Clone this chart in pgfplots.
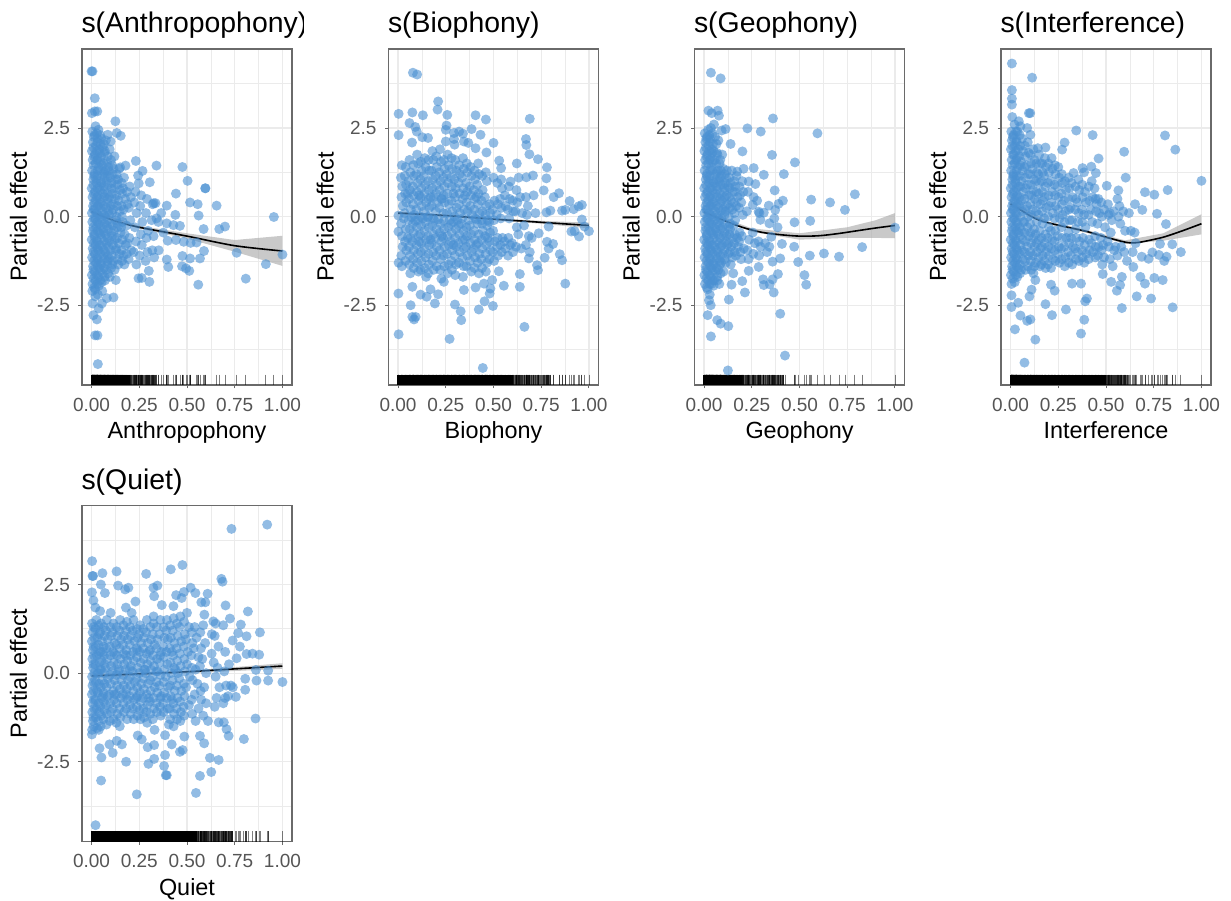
\documentclass[border=0pt]{standalone}
\usepackage{pgfplots}
\usepackage{pgfplotstable}
\usepackage{fontspec}
\setmainfont{Liberation Sans}
\pgfplotsset{compat=1.18}
\definecolor{pt}{HTML}{4A90D2}
\definecolor{gr}{HTML}{EBEBEB}
\definecolor{fr}{HTML}{6A6A6A}
\definecolor{tl}{HTML}{555555}
\pgfplotstableread[row sep=\\]{x y\\
0 4.1\\.005 4.1\\.017 3.34\\.017 2.97\\.002 2.92\\.03 2.97\\.125 2.69\\.132 2.36\\.153 2.28\\.10 2.12\\.085 2.31\\.232 1.57\\.34 1.44\\.476 1.40\\.503 1.01\\.178 1.44\\.15 1.39\\.267 1.29\\.244 1.16\\.305 .97\\.247 .94\\.442 .65\\.596 .80\\.596 .80\\.394 .31\\.326 .38\\.335 .38\\.516 .40\\.556 .35\\.655 .31\\.439 .05\\.561 .03\\.955 -.01\\.394 -.19\\.429 -.24\\.463 -.26\\.587 -.35\\.669 -.35\\.699 -.28\\.376 -.45\\.399 -.68\\.442 -.66\\.483 -.71\\.519 -.74\\.55 -.73\\.589 -.97\\.76 -1.02\\1 -1.07\\.476 -1.11\\.516 -1.18\\.568 -1.18\\.394 -1.21\\.402 -1.42\\.474 -1.40\\.495 -1.46\\.512 -1.53\\.913 -1.34\\.808 -1.75\\.559 -1.92\\.303 -1.84\\.30 -1.53\\.246 -1.74\\.263 -1.73\\.127 -1.79\\.115 -2.28\\.054 -2.45\\.005 -2.45\\.01 -2.78\\.028 -2.90\\.019 -3.35\\.031 -3.35\\.033 -4.16\\.037 -2.59\\.08 -2.3\\
.004 2.4\\.007 2.1\\.002 1.85\\.006 1.6\\.003 1.3\\.009 1.05\\.001 .8\\.005 .55\\.008 .3\\.002 .1\\.004 -.15\\.007 -.4\\.001 -.65\\.006 -.9\\.003 -1.15\\.008 -1.4\\.002 -1.65\\.005 -1.9\\.004 -2.1\\
.021 2.55\\.016 2.3\\.024 2\\.018 1.75\\.022 1.5\\.015 1.2\\.026 .95\\.019 .7\\.023 .45\\.017 .2\\.02 -.05\\.025 -.3\\.014 -.55\\.021 -.8\\.018 -1.05\\.024 -1.3\\.016 -1.55\\.022 -1.8\\.019 -2.05\\.02 -2.25\\
.036 2.45\\.031 2.2\\.04 1.9\\.033 1.65\\.038 1.4\\.03 1.15\\.042 .85\\.034 .6\\.039 .35\\.032 .05\\.037 -.2\\.041 -.45\\.03 -.7\\.036 -.95\\.033 -1.2\\.04 -1.45\\.035 -1.7\\.038 -1.95\\.033 -2.2\\
.052 2.2\\.058 1.95\\.05 1.7\\.056 1.45\\.061 1.2\\.053 .95\\.059 .65\\.049 .4\\.057 .15\\.054 -.1\\.06 -.35\\.051 -.6\\.055 -.85\\.062 -1.1\\.05 -1.35\\.058 -1.6\\.053 -1.85\\.056 -2.1\\
.075 2.15\\.07 1.85\\.081 1.55\\.073 1.3\\.078 1\\.069 .75\\.083 .5\\.076 .25\\.071 0\\.08 -.25\\.074 -.5\\.079 -.75\\.072 -1\\.082 -1.25\\.075 -1.5\\.07 -1.8\\
.095 1.9\\.101 1.6\\.09 1.3\\.098 1.1\\.104 .8\\.093 .55\\.1 .3\\.091 .05\\.097 -.2\\.103 -.45\\.094 -.7\\.099 -.95\\.09 -1.2\\.102 -1.45\\.096 -1.7\\
.12 1.7\\.115 1.35\\.126 1.05\\.118 .8\\.123 .5\\.113 .2\\.128 -.1\\.117 -.4\\.122 -.65\\.127 -.95\\.114 -1.25\\.121 -1.5\\
.145 1.35\\.139 1.05\\.15 .75\\.142 .45\\.148 .15\\.136 -.2\\.152 -.45\\.143 -.75\\.147 -1.05\\.14 -1.35\\
.17 1.1\\.165 .8\\.176 .5\\.168 .2\\.163 -.15\\.173 -.5\\.178 -.8\\.167 -1.1\\.172 -1.35\\
.2 .85\\.206 .55\\.195 .25\\.203 -.1\\.198 -.6\\.208 -.95\\.194 -1.2\\
.23 .7\\.224 .4\\.236 .1\\.227 -.3\\.233 -.7\\.221 -1\\.235 -1.35\\
.26 .6\\.255 .3\\.266 -.15\\.258 -.5\\.263 -.8\\.252 -1.1\\
.29 .5\\.285 .1\\.296 -.4\\.288 -.6\\.293 -1\\.283 -1.25\\
.32 .35\\.315 -.1\\.325 -.55\\.318 -.95\\.328 -1.15\\.352 -.95\\.34 -.05\\.365 .1\\.35 -.15\\
.012 2.25\\.01 1.95\\.013 1.7\\.011 1.45\\.014 1.15\\.01 .9\\.012 .65\\.014 .4\\.011 .2\\.013 -.05\\.01 -.3\\.014 -.5\\.012 -.75\\.011 -1\\.013 -1.25\\.01 -1.5\\.012 -1.75\\.014 -2\\
.028 2.35\\.03 2.1\\.027 1.85\\.029 1.6\\.031 1.3\\.026 1.05\\.03 .8\\.028 .55\\.032 .3\\.027 .1\\.029 -.15\\.031 -.4\\.026 -.65\\.03 -.9\\.028 -1.15\\.032 -1.4\\.027 -1.65\\.029 -1.9\\
.045 2.3\\.047 2.05\\.043 1.8\\.046 1.55\\.044 1.3\\.048 1\\.045 .75\\.043 .5\\.047 .25\\.044 0\\.046 -.25\\.048 -.5\\.043 -.8\\.045 -1.05\\.047 -1.3\\.044 -1.55\\.046 -1.8\\
.065 2.05\\.067 1.8\\.063 1.5\\.066 1.25\\.068 1.1\\.064 .85\\.067 .55\\.063 .3\\.065 .05\\.068 -.2\\.064 -.45\\.066 -.7\\.063 -.95\\.067 -1.2\\.065 -1.45\\.068 -1.7\\
.085 1.7\\.088 1.4\\.084 1.15\\.087 .9\\.083 .65\\.086 .4\\.089 .15\\.085 -.1\\.087 -.35\\.084 -.6\\.088 -.85\\.086 -1.1\\.083 -1.35\\.087 -1.6\\
.108 1.45\\.111 1.2\\.106 .95\\.109 .65\\.112 .35\\.107 .1\\.11 -.25\\.108 -.55\\.112 -.8\\.106 -1.1\\.109 -1.35\\
.132 1.2\\.135 .9\\.13 .6\\.134 .3\\.131 0\\.136 -.3\\.133 -.6\\.13 -.9\\.135 -1.2\\
.158 .95\\.16 .65\\.156 .3\\.159 0\\.155 -.3\\.161 -.65\\.157 -.95\\.16 -1.25\\.185 .7\\.188 .35\\.183 -.25\\.187 -.75\\.184 -1.05\\
}\dA
\pgfplotstableread[row sep=\\]{x y\\
.078 4.06\\.10 4.01\\.21 3.25\\.207 3.02\\.003 2.9\\.075 2.94\\.13 2.86\\.258 2.87\\.406 2.86\\.46 2.74\\.69 2.76\\.06 2.64\\.09 2.53\\.003 2.3\\.098 2.4\\.254 2.57\\.25 2.45\\.385 2.47\\.432 2.31\\.32 2.4\\.293 2.36\\.34 2.34\\.127 2.24\\.157 2.22\\.293 2.19\\.25 2.12\\.345 2.12\\.368 2.08\\.50 2.08\\.67 2.19\\.672 2.02\\.073 2.09\\.406 1.93\\.463 1.81\\.296 2.03\\.688 1.76\\.733 1.62\\.53 1.58\\.622 1.5\\.78 1.39\\.777 1.08\\.54 1.37\\.707 1.16\\.672 1.11\\.632 1.10\\.589 .99\\.763 .74\\.843 .66\\.815 .55\\.899 .44\\.963 .33\\.946 .29\\.876 .19\\.92 .21\\.859 .17\\.777 .12\\.798 .17\\.963 -.08\\1 -.41\\.925 -.41\\.908 -.42\\.948 -.56\\.977 -.28\\.789 -.28\\.737 -.47\\.78 -.71\\.812 -.77\\.789 -.9\\.847 -1.06\\.859 -1.23\\.768 -1.16\\.728 -1.37\\.733 -1.51\\.685 -1.18\\.876 -1.89\\.638 -1.62\\.638 -1.98\\.528 -1.54\\.554 -1.95\\.493 -1.79\\.484 -2.03\\.48 -2.17\\.453 -2.39\\.497 -2.52\\.423 -2.62\\.298 -2.48\\.328 -2.67\\.331 -2.92\\.193 -2.45\\.066 -2.5\\.002 -2.17\\.075 -1.98\\.118 -2.2\\.15 -2.26\\.21 -2.19\\.075 -2.83\\.092 -2.83\\.084 -2.9\\.003 -3.32\\.27 -3.45\\.662 -3.11\\.444 -4.27\\.345 -2.07\\.406 -2\\.45 -1.89\\.24 -1.84\\.17 -2.05\\.003 -1.3\\.002 -.42\\.002 .03\\
.02 1.45\\.015 1.1\\.022 .85\\.018 .55\\.025 .3\\.016 -.2\\.021 -.55\\.024 -.85\\.017 -1.1\\.02 -1.4\\
.06 1.6\\.065 1.25\\.055 1\\.062 .75\\.058 .5\\.067 .2\\.056 -.1\\.061 -.35\\.066 -.6\\.057 -.85\\.063 -1.1\\.059 -1.35\\.064 -1.6\\
.1 1.75\\.105 1.5\\.095 1.2\\.102 .95\\.098 .7\\.107 .45\\.096 .2\\.103 -.1\\.099 -.3\\.106 -.55\\.097 -.8\\.104 -1.05\\.1 -1.3\\.107 -1.55\\
.14 1.65\\.145 1.4\\.135 1.15\\.142 .9\\.138 .65\\.147 .4\\.136 .15\\.143 -.15\\.139 -.4\\.146 -.65\\.137 -.9\\.144 -1.15\\.14 -1.45\\.147 -1.7\\
.18 1.85\\.185 1.6\\.175 1.3\\.182 1.05\\.178 .8\\.187 .55\\.176 .3\\.183 -.05\\.179 -.25\\.186 -.5\\.177 -.75\\.184 -1\\.18 -1.25\\.187 -1.5\\
.22 1.9\\.225 1.55\\.215 1.25\\.222 1\\.218 .75\\.227 .5\\.216 .25\\.223 -.2\\.219 -.45\\.226 -.7\\.217 -.95\\.224 -1.2\\.22 -1.5\\.227 -1.75\\
.26 1.75\\.265 1.45\\.255 1.2\\.262 .95\\.258 .65\\.267 .35\\.256 .1\\.263 -.3\\.259 -.55\\.266 -.8\\.257 -1.05\\.264 -1.35\\.26 -1.6\\
.3 1.6\\.305 1.3\\.295 1.05\\.302 .8\\.298 .55\\.307 .25\\.296 0\\.303 -.35\\.299 -.6\\.306 -.85\\.297 -1.1\\.304 -1.35\\.3 -1.65\\
.34 1.65\\.345 1.35\\.335 1.1\\.342 .8\\.338 .5\\.347 .2\\.336 -.05\\.343 -.4\\.339 -.65\\.346 -.9\\.337 -1.15\\.344 -1.4\\.34 -1.7\\
.38 1.4\\.385 1.15\\.375 .85\\.382 .6\\.378 .3\\.387 .05\\.376 -.25\\.383 -.5\\.379 -.75\\.386 -1\\.377 -1.25\\.384 -1.55\\
.42 1.5\\.425 1.2\\.415 .9\\.422 .65\\.418 .35\\.427 .1\\.416 -.2\\.423 -.5\\.419 -.75\\.426 -1.05\\.417 -1.3\\.424 -1.6\\
.46 1.25\\.465 1\\.455 .55\\.462 .3\\.458 .05\\.467 -.25\\.456 -.55\\.463 -.8\\.459 -1.05\\.466 -1.3\\.46 -1.55\\
.5 1.1\\.505 .45\\.495 .2\\.502 -.1\\.498 -.4\\.507 -.7\\.496 -1\\.503 -1.25\\
.54 1.05\\.545 .8\\.535 .5\\.542 .25\\.538 -.05\\.547 -.6\\.536 -.8\\.543 -1\\
.58 .85\\.585 .5\\.575 .2\\.582 -.05\\.578 -.6\\.587 -.8\\.576 -1.1\\
.62 .75\\.625 .4\\.615 .15\\.622 -.3\\.618 -.85\\.64 .55\\.65 .1\\.63 -.5\\.645 -.9\\
.67 .55\\.68 .3\\.675 .05\\.66 -.25\\.685 -.55\\.67 -.8\\.69 -1\\.72 .1\\.71 .6\\.7 -.6\\
.04 1.4\\.035 1.15\\.042 .9\\.037 .65\\.043 .4\\.034 .1\\.04 -.35\\.036 -.7\\.043 -.95\\.038 -1.25\\
.08 1.45\\.083 1.15\\.077 .85\\.082 .6\\.079 .35\\.084 .05\\.078 -.2\\.081 -.45\\.076 -.7\\.083 -.95\\.079 -1.2\\.082 -1.45\\
.12 1.55\\.123 1.3\\.117 1.05\\.122 .8\\.119 .55\\.124 .3\\.118 0\\.121 -.25\\.116 -.5\\.123 -.75\\.119 -1\\.122 -1.25\\.118 -1.5\\
.16 1.6\\.163 1.3\\.157 1\\.162 .75\\.159 .5\\.164 .25\\.158 0\\.161 -.3\\.156 -.55\\.163 -.8\\.159 -1.05\\.162 -1.35\\.158 -1.6\\
.2 1.7\\.203 1.4\\.197 1.15\\.202 .9\\.199 .65\\.204 .4\\.198 .15\\.201 -.35\\.196 -.6\\.203 -.85\\.199 -1.1\\.202 -1.4\\
.24 1.6\\.243 1.35\\.237 1.1\\.242 .85\\.239 .6\\.244 .4\\.238 .1\\.241 -.35\\.236 -.6\\.243 -.85\\.239 -1.1\\.242 -1.4\\
.28 1.65\\.283 1.35\\.277 1.1\\.282 .85\\.279 .45\\.284 .15\\.278 -.2\\.281 -.45\\.276 -.7\\.283 -.95\\.279 -1.25\\.282 -1.5\\
.32 1.45\\.323 1.2\\.317 .95\\.322 .65\\.319 .35\\.324 .1\\.318 -.25\\.321 -.5\\.316 -.75\\.323 -1\\.319 -1.3\\
.36 1.5\\.363 1.25\\.357 .95\\.362 .7\\.359 .4\\.364 .15\\.358 -.3\\.361 -.55\\.356 -.85\\.363 -1.1\\.359 -1.4\\
.4 1.3\\.403 1.05\\.397 .75\\.402 .5\\.399 .2\\.404 -.05\\.398 -.4\\.401 -.65\\.396 -.9\\.403 -1.15\\.4 -1.45\\
.44 1.15\\.443 .75\\.437 .45\\.442 .15\\.439 -.1\\.444 -.4\\.438 -.65\\.441 -.9\\.436 -1.2\\.44 -1.45\\
.48 .35\\.483 .1\\.477 -.15\\.482 -.45\\.479 -.7\\.484 -.95\\.478 -1.2\\.52 .95\\.523 .35\\.517 .05\\.522 -.6\\.519 -.85\\.524 -1.1\\
.56 .6\\.563 .3\\.557 -.7\\.562 -.9\\.6 .45\\.603 .15\\.597 -.75\\.602 -1\\
.03 -.05\\.07 -.02\\.09 -.12\\.13 -.05\\.155 -.02\\.19 -.1\\.21 -.08\\.24 -.12\\.27 -.1\\.29 -.15\\.31 -.1\\.33 -.2\\.37 -.1\\.41 -.08\\.44 -.2\\.47 -.1\\
.05 .65\\.11 .6\\.17 .55\\.23 .5\\.29 .65\\.35 .6\\.41 .55\\.05 -.6\\.11 -.7\\.17 -.65\\.23 -.55\\.29 -.8\\.35 -.65\\.41 -.8\\.47 -.6\\
}\dB
\pgfplotstableread[row sep=\\]{x y\\
.036 4.06\\.087 3.9\\.023 2.99\\.071 2.99\\.04 2.92\\.078 2.85\\.361 2.77\\.227 2.49\\.297 2.4\\.594 2.35\\.113 2.47\\.092 2.43\\.139 2.05\\.201 1.84\\.356 1.74\\.476 1.53\\.26 1.37\\.207 1.35\\.418 1.2\\.313 1.18\\.174 1.27\\.234 .99\\.269 .92\\.37 .74\\.278 .45\\.413 .45\\.561 .48\\.66 .4\\.79 .63\\.738 .19\\.39 .36\\.339 .31\\.255 .33\\.373 .19\\.286 .14\\.313 .11\\.368 -.05\\.342 -.19\\.295 -.09\\.474 -.16\\.556 -.12\\.385 -.3\\.352 -.57\\.408 -.77\\.342 -.85\\.472 -.85\\.828 -.86\\.628 -1.04\\.554 -1.1\\.707 -1.13\\.493 -1.28\\.399 -1.18\\.359 -1.27\\.286 -1.42\\.234 -1.53\\.153 -1.6\\.526 -1.65\\.387 -1.62\\.535 -1.92\\.309 -1.77\\.359 -1.77\\.313 -1.93\\.344 -1.91\\.214 -2.14\\.365 -2.14\\.2 -1.82\\.144 -1.92\\.13 -2.34\\.399 -2.74\\.069 -2.92\\.087 -3.02\\.127 -3.09\\.036 -3.38\\.424 -3.92\\.125 -4.34\\.019 -2.78\\.026 -2.36\\.035 -2.5\\1 -.31\\.05 -1.95\\.08 -1.9\\
.004 2.35\\.007 2.1\\.002 1.85\\.006 1.6\\.003 1.3\\.009 1.05\\.001 .8\\.005 .55\\.008 .3\\.002 .1\\.004 -.15\\.007 -.4\\.001 -.65\\.006 -.9\\.003 -1.15\\.008 -1.4\\.002 -1.65\\.005 -1.9\\
.021 2.45\\.016 2.25\\.024 2\\.018 1.75\\.022 1.5\\.015 1.2\\.026 .95\\.019 .7\\.023 .45\\.017 .2\\.02 -.05\\.025 -.3\\.014 -.55\\.021 -.8\\.018 -1.05\\.024 -1.3\\.016 -1.55\\.022 -1.8\\.019 -2.05\\
.036 2.5\\.031 2.2\\.04 1.9\\.033 1.65\\.038 1.4\\.03 1.15\\.042 .85\\.034 .6\\.039 .35\\.032 .05\\.037 -.2\\.041 -.45\\.03 -.7\\.036 -.95\\.033 -1.2\\.04 -1.45\\.035 -1.7\\.038 -1.9\\.03 -2.2\\
.052 2.6\\.058 2.25\\.05 1.85\\.056 1.6\\.061 1.2\\.053 .95\\.059 .65\\.049 .4\\.057 .15\\.054 -.1\\.06 -.35\\.051 -.6\\.055 -.85\\.062 -1.1\\.05 -1.35\\.058 -1.55\\.053 -1.8\\
.075 2.15\\.07 1.75\\.081 1.5\\.073 1.3\\.078 1\\.069 .75\\.083 .5\\.076 .25\\.071 0\\.08 -.25\\.074 -.5\\.079 -.75\\.072 -1\\.082 -1.25\\.075 -1.5\\.07 -1.8\\
.095 1.75\\.101 1.35\\.09 1.15\\.098 .9\\.104 .7\\.093 .45\\.1 .2\\.091 -.05\\.097 -.3\\.103 -.55\\.094 -.8\\.099 -1.05\\.09 -1.3\\.102 -1.55\\
.12 1.3\\.115 1.1\\.126 .85\\.118 .6\\.123 .35\\.113 .15\\.128 -.3\\.117 -.55\\.122 -.8\\.127 -1.05\\.114 -1.3\\
.145 1.3\\.139 .95\\.15 .7\\.142 .45\\.148 .2\\.136 -.35\\.152 -.6\\.143 -.85\\.147 -1.15\\.14 -1.35\\
.17 1.15\\.165 .85\\.176 .55\\.168 .3\\.163 -.1\\.173 -.6\\.178 -.85\\.167 -1.1\\
.2 1\\.206 .7\\.195 .4\\.203 .05\\.198 -.55\\.208 -.9\\.194 -1.2\\.23 .7\\.224 .15\\.236 -.65\\.227 -.95\\.233 -1.2\\
.26 .55\\.255 -.45\\.266 -.75\\.258 -1.05\\.29 .1\\.285 -.7\\.296 -.85\\.288 -1.1\\.32 -.75\\.33 -1\\
.012 2.2\\.01 1.95\\.013 1.7\\.011 1.45\\.014 1.15\\.01 .9\\.012 .65\\.014 .4\\.011 .2\\.013 -.05\\.01 -.3\\.014 -.5\\.012 -.75\\.011 -1\\.013 -1.25\\.01 -1.5\\.012 -1.75\\.014 -2\\
.028 2.3\\.03 2.1\\.027 1.85\\.029 1.6\\.031 1.3\\.026 1.05\\.03 .8\\.028 .55\\.032 .3\\.027 .1\\.029 -.15\\.031 -.4\\.026 -.65\\.03 -.9\\.028 -1.15\\.032 -1.4\\.027 -1.65\\.029 -1.9\\
.045 2.35\\.047 2.05\\.043 1.8\\.046 1.55\\.044 1.3\\.048 1\\.045 .75\\.043 .5\\.047 .25\\.044 0\\.046 -.25\\.048 -.5\\.043 -.8\\.045 -1.05\\.047 -1.3\\.044 -1.55\\.046 -1.8\\
.065 2.05\\.067 1.8\\.063 1.5\\.066 1.25\\.068 1.05\\.064 .85\\.067 .55\\.063 .3\\.065 .05\\.068 -.2\\.064 -.45\\.066 -.7\\.063 -.95\\.067 -1.2\\.065 -1.45\\.068 -1.7\\
.085 1.6\\.088 1.3\\.084 1.1\\.087 .9\\.083 .65\\.086 .4\\.089 .15\\.085 -.1\\.087 -.35\\.084 -.6\\.088 -.85\\.086 -1.1\\.083 -1.35\\.087 -1.6\\
.108 1.2\\.111 .95\\.106 .8\\.109 .55\\.112 .3\\.107 .05\\.11 -.2\\.108 -.45\\.112 -.7\\.106 -.95\\.109 -1.2\\
.132 1.1\\.135 .8\\.13 .55\\.134 .25\\.131 0\\.136 -.2\\.133 -.5\\.13 -.75\\.135 -1\\.158 1\\.16 .7\\.156 .4\\.159 .1\\.155 -.25\\.161 -.5\\.157 -.75\\.16 -1\\.185 .85\\.188 .6\\.183 .25\\.187 -.45\\.184 -.7\\.19 -1\\
}\dC
\pgfplotstableread[row sep=\\]{x y\\
.007 4.32\\.113 3.92\\.007 3.57\\.007 3.33\\.007 3.16\\.096 2.92\\.103 2.92\\.009 2.81\\.043 2.69\\.344 2.43\\.43 2.3\\.809 2.29\\.863 1.89\\.283 2.09\\.27 1.89\\.183 1.95\\.143 1.93\\.595 1.83\\.461 1.64\\1 1.01\\.603 1.1\\.823 .75\\.704 .69\\.753 .62\\.565 .74\\.504 .87\\.652 .35\\.69 .19\\.767 .08\\.814 -.21\\.847 -.78\\.892 -1\\.817 -1.13\\.805 -1.25\\.777 -1.08\\.743 -1.01\\.723 -1.19\\.783 -.77\\.753 -1.73\\.797 -1.79\\.704 -1.89\\.661 -2.25\\.736 -2.31\\.849 -2.56\\.583 -2.58\\.68 -1.7\\.557 -2.09\\.574 -1.93\\.527 -1.84\\.483 -1.62\\.4 -2.31\\.391 -2.39\\.386 -2.91\\.369 -3.3\\.29 -2.62\\.217 -2.78\\.183 -2.47\\.231 -2.09\\.212 -1.92\\.13 -3.47\\.073 -4.12\\.023 -3.18\\.104 -2.9\\.087 -2.94\\.052 -2.79\\.005 -2.55\\.04 -2.43\\.099 -2.25\\.11 -2.06\\.005 -2.22\\.13 -1.79\\.322 -1.89\\.369 -1.89\\.583 -1.7\\.643 -1.42\\.687 -1.13\\.33 1.23\\.377 1.37\\.423 1.41\\.447 1.23\\.052 2.55\\.087 2.5\\.104 2.31\\
.004 2.4\\.007 2.15\\.002 1.9\\.006 1.6\\.003 1.3\\.009 1.05\\.001 .8\\.005 .55\\.008 .3\\.002 .1\\.004 -.15\\.007 -.4\\.001 -.65\\.006 -.9\\.003 -1.15\\.008 -1.4\\.002 -1.65\\.005 -1.9\\
.021 2.6\\.016 2.3\\.024 2\\.018 1.75\\.022 1.5\\.015 1.2\\.026 .95\\.019 .7\\.023 .45\\.017 .2\\.02 -.05\\.025 -.3\\.014 -.55\\.021 -.8\\.018 -1.05\\.024 -1.3\\.016 -1.55\\.022 -1.85\\
.036 2.4\\.031 2.15\\.04 1.9\\.033 1.65\\.038 1.4\\.03 1.15\\.042 .85\\.034 .6\\.039 .35\\.032 .05\\.037 -.2\\.041 -.45\\.03 -.7\\.036 -.95\\.033 -1.2\\.04 -1.45\\.035 -1.7\\
.06 2.2\\.065 1.85\\.055 1.55\\.062 1.3\\.058 1\\.067 .7\\.056 .45\\.061 .15\\.066 -.15\\.057 -.4\\.063 -.65\\.059 -.95\\.064 -1.2\\.056 -1.5\\
.09 2.1\\.095 1.8\\.085 1.45\\.092 1.2\\.088 .9\\.097 .6\\.086 .3\\.093 0\\.089 -.3\\.096 -.55\\.087 -.85\\.094 -1.1\\.09 -1.4\\
.12 1.9\\.125 1.6\\.115 1.35\\.122 1.05\\.118 .75\\.127 .5\\.116 .2\\.123 -.35\\.119 -.6\\.126 -.85\\.117 -1.1\\.124 -1.4\\.12 -1.6\\
.15 1.75\\.155 1.5\\.145 1.2\\.152 .95\\.148 .65\\.157 .35\\.146 .05\\.153 -.4\\.149 -.65\\.156 -.9\\.147 -1.15\\.154 -1.4\\
.18 1.65\\.185 1.4\\.175 1.15\\.182 .85\\.178 .55\\.187 .25\\.176 -.05\\.183 -.5\\.179 -.75\\.186 -1\\.177 -1.25\\.184 -1.45\\
.215 1.65\\.22 1.35\\.21 1\\.217 .7\\.213 .4\\.222 .1\\.211 -.4\\.218 -.65\\.214 -.9\\.221 -1.2\\.212 -1.45\\
.25 1.4\\.255 1.1\\.245 .85\\.252 .55\\.248 .2\\.257 -.05\\.246 -.55\\.253 -.85\\.249 -1.05\\.256 -1.3\\
.285 1\\.29 .75\\.28 .45\\.287 .15\\.283 -.15\\.292 -.6\\.281 -.85\\.288 -1.15\\.284 -1.4\\
.32 .95\\.325 .55\\.315 .25\\.322 -.1\\.318 -.6\\.327 -.85\\.316 -1.1\\.323 -1.35\\
.355 1.05\\.36 .75\\.35 .4\\.357 .1\\.353 -.15\\.362 -.7\\.351 -1\\.358 -1.25\\.385 1.25\\
.39 .7\\.395 .4\\.385 .05\\.392 -.3\\.388 -.8\\.397 -1.05\\.386 -1.3\\
.425 1\\.43 .55\\.42 .2\\.427 -.15\\.423 -.75\\.432 -1\\.44 .8\\.45 .35\\
.46 .5\\.465 .1\\.455 -.2\\.462 -.85\\.458 -1.1\\.49 .2\\.495 -.3\\.485 -.8\\.49 -1.15\\.48 -1.35\\
.52 .1\\.53 -.1\\.525 -.45\\.515 -.85\\.52 -1.2\\.535 -1.4\\.56 .5\\.57 .3\\.565 0\\.575 -.2\\.55 -.85\\.56 -1.1\\
.59 .15\\.6 -.4\\.595 -1\\.61 -1.25\\.62 .1\\.63 -.4\\.64 -1\\.65 -.45\\.655 -.75\\
.012 2.25\\.01 2\\.013 1.75\\.011 1.45\\.014 1.15\\.01 .9\\.012 .65\\.014 .4\\.011 .2\\.013 -.05\\.01 -.3\\.014 -.5\\.012 -.75\\.011 -1\\.013 -1.25\\.01 -1.5\\.012 -1.75\\
.028 2.4\\.03 2.1\\.027 1.85\\.029 1.6\\.031 1.3\\.026 1.05\\.03 .8\\.028 .55\\.032 .3\\.027 .1\\.029 -.15\\.031 -.4\\.026 -.65\\.03 -.9\\.028 -1.15\\.032 -1.4\\.027 -1.65\\
.048 2.3\\.05 2\\.046 1.7\\.049 1.45\\.047 1.15\\.051 .85\\.048 .55\\.046 .3\\.05 0\\.047 -.3\\.049 -.55\\.051 -.8\\.046 -1.05\\.048 -1.35\\.05 -1.6\\
.075 2\\.078 1.7\\.073 1.4\\.076 1.1\\.079 .8\\.074 .5\\.077 .2\\.072 -.15\\.075 -.45\\.078 -.7\\.073 -1\\.076 -1.25\\.079 -1.5\\
.105 1.75\\.108 1.5\\.103 1.2\\.106 .9\\.109 .6\\.104 .35\\.107 .05\\.102 -.2\\.105 -.45\\.108 -.75\\.103 -1\\.106 -1.25\\.109 -1.5\\
.135 1.5\\.138 1.25\\.133 1\\.136 .7\\.139 .4\\.134 .15\\.137 -.15\\.132 -.5\\.135 -.75\\.138 -1\\.133 -1.3\\
.165 1.5\\.168 1.25\\.163 1\\.166 .7\\.169 .45\\.164 .15\\.167 -.2\\.162 -.6\\.165 -.85\\.168 -1.1\\.163 -1.35\\
.198 1.5\\.201 1.25\\.196 .95\\.199 .6\\.202 .3\\.197 0\\.2 -.3\\.195 -.6\\.198 -.85\\.201 -1.1\\.196 -1.35\\
.232 1.45\\.235 1.2\\.23 .9\\.233 .6\\.236 .3\\.231 -.05\\.234 -.4\\.229 -.7\\.232 -.95\\.235 -1.25\\
.268 1.2\\.271 .95\\.266 .65\\.269 .35\\.272 .05\\.267 -.3\\.27 -.6\\.265 -.9\\.268 -1.2\\
.305 1.1\\.308 .8\\.303 .5\\.306 .2\\.309 -.1\\.304 -.45\\.307 -.75\\.302 -1\\.305 -1.3\\
.34 .85\\.343 .5\\.338 .2\\.341 -.35\\.344 -.6\\.339 -.9\\.342 -1.2\\
.375 .9\\.378 .55\\.373 .2\\.376 -.15\\.379 -.6\\.374 -.95\\.377 -1.15\\.41 .85\\.413 .45\\.408 .05\\.411 -.65\\.414 -.95\\.409 -1.2\\
.445 .5\\.448 .15\\.443 -.55\\.446 -.85\\.444 -1.15\\.475 .4\\.478 0\\.473 -.6\\.476 -.95\\.51 .35\\.513 .05\\.508 -.7\\.54 .15\\.543 -.95\\.58 -.85\\
}\dD
\pgfplotstableread[row sep=\\]{x y\\
.003 3.16\\.005 2.74\\.008 2.74\\.057 2.82\\.131 2.87\\.286 2.8\\.415 2.93\\.476 3.05\\.733 4.07\\.92 4.19\\.68 2.66\\.686 2.58\\.049 2.5\\.139 2.47\\.07 2.26\\.002 2.28\\.176 2.36\\.193 2.41\\.324 2.41\\.345 2.47\\.328 2.17\\.23 2.02\\.519 2.41\\.484 2.29\\.544 2.26\\.608 2.24\\.443 2.2\\.472 2.12\\.575 2\\.596 2\\.368 1.92\\.429 1.89\\.702 1.91\\.819 1.74\\.591 1.65\\.782 1.37\\.725 1.54\\.638 1.46\\.882 1.15\\.812 1.04\\.768 1.13\\.739 .92\\.777 .75\\.812 .54\\.843 .55\\.878 .52\\.76 .42\\.629 .55\\.925 .07\\.861 .09\\.864 -.21\\.925 -.21\\1 -.25\\.805 -.16\\.805 -.47\\.756 -.67\\.859 -1.28\\.798 -1.86\\.718 -1.77\\.707 -1.58\\.693 -1.39\\.666 -1.39\\.59 -1.98\\.568 -1.77\\.666 -2.45\\.62 -2.39\\.627 -2.79\\.568 -2.9\\.547 -3.38\\.237 -3.42\\.05 -3.03\\.021 -4.29\\.181 -2.5\\.052 -2.38\\.042 -2.12\\.111 -2.25\\.094 -2.01\\.132 -1.91\\.159 -2.01\\.298 -2.56\\.328 -2.42\\.385 -2.31\\.38 -2.62\\.389 -2.88\\.394 -2.88\\.463 -2.22\\.477 -2.17\\.42 -2.01\\.294 -2.09\\.328 -2.03\\.002 -1.73\\.242 -1.76\\.263 -1.87\\.385 -1.75\\.486 -1.79\\.01 2.05\\.02 1.85\\.045 1.75\\.1 1.7\\.18 1.85\\.21 1.7\\.325 1.6\\
.003 1.4\\.006 1.15\\.002 .9\\.007 .65\\.004 .4\\.008 .15\\.003 -.1\\.005 -.35\\.002 -.6\\.006 -.85\\.004 -1.1\\.007 -1.35\\.003 -1.6\\
.025 1.5\\.02 1.25\\.03 1\\.022 .75\\.027 .5\\.019 .25\\.031 0\\.024 -.25\\.028 -.5\\.021 -.75\\.026 -1\\.023 -1.25\\.029 -1.55\\
.05 1.4\\.045 1.15\\.055 .9\\.047 .6\\.052 .35\\.044 .1\\.056 -.2\\.049 -.4\\.053 -.7\\.046 -.95\\.051 -1.2\\.048 -1.5\\
.08 1.5\\.075 1.2\\.085 .95\\.077 .7\\.082 .4\\.074 .15\\.086 -.15\\.079 -.4\\.083 -.65\\.076 -.9\\.081 -1.15\\.078 -1.45\\
.115 1.4\\.11 1.15\\.12 .85\\.112 .6\\.117 .3\\.109 .05\\.121 -.2\\.114 -.5\\.118 -.75\\.111 -1\\.116 -1.3\\
.15 1.5\\.145 1.2\\.155 .95\\.147 .7\\.152 .4\\.144 .1\\.156 -.2\\.149 -.45\\.153 -.7\\.146 -1\\.151 -1.25\\.148 -1.5\\
.185 1.45\\.18 1.2\\.19 .95\\.182 .65\\.187 .35\\.179 .1\\.191 -.2\\.184 -.45\\.188 -.75\\.181 -1\\.186 -1.3\\
.22 1.5\\.215 1.2\\.225 .9\\.217 .6\\.222 .35\\.214 .05\\.226 -.25\\.219 -.5\\.223 -.75\\.216 -1\\.221 -1.3\\
.255 1.35\\.25 1.1\\.26 .85\\.252 .6\\.257 .3\\.249 0\\.261 -.3\\.254 -.55\\.258 -.8\\.251 -1.05\\.256 -1.3\\
.29 1.5\\.285 1.15\\.295 .85\\.287 .55\\.292 .25\\.284 0\\.296 -.3\\.289 -.6\\.293 -.9\\.286 -1.1\\.291 -1.4\\
.325 1.4\\.32 1.1\\.33 .8\\.322 .5\\.327 .2\\.319 -.1\\.331 -.4\\.324 -.7\\.328 -1\\.321 -1.3\\.33 -1.6\\
.36 1.5\\.355 1.1\\.365 .6\\.357 .3\\.362 -.05\\.354 -.35\\.366 -.65\\.359 -.95\\.363 -1.2\\
.395 1.5\\.39 1.2\\.4 .95\\.392 .6\\.397 .25\\.389 -.1\\.401 -.4\\.394 -.7\\.398 -1\\.405 -1.45\\
.43 1.55\\.425 1.2\\.435 .85\\.427 .5\\.432 .15\\.424 -.2\\.436 -.5\\.429 -.85\\.433 -1.15\\.43 -1.5\\
.465 1.6\\.46 1.3\\.47 .9\\.462 .55\\.467 .2\\.459 -.15\\.471 -.5\\.464 -.8\\.468 -1.1\\.465 -1.35\\
.5 1.7\\.51 1.3\\.495 .95\\.505 .6\\.5 .25\\.515 -.1\\.495 -.4\\.51 -.9\\
.54 1.3\\.55 1\\.535 .7\\.56 .45\\.545 .1\\.555 -.3\\.54 -.6\\.56 -1\\.545 -1.35\\
.585 1.35\\.595 .85\\.58 .4\\.6 0\\.59 -.4\\.6 -.85\\.585 -1.2\\.61 -1.35\\
.63 1.1\\.65 1.4\\.645 1.05\\.665 .75\\.64 .3\\.66 .15\\.65 -.1\\.67 -.4\\.655 -.7\\.645 -.95\\
.69 1.35\\.7 .6\\.72 .25\\.695 .05\\.705 -.35\\.73 -.35\\.7 -.7\\.69 -.85\\.74 -.4\\.715 -.65\\
.012 1.3\\.014 1\\.011 .75\\.013 .5\\.01 .25\\.014 0\\.012 -.25\\.011 -.5\\.013 -.75\\.014 -1\\.01 -1.25\\.012 -1.5\\
.037 1.35\\.04 1.1\\.035 .8\\.038 .55\\.041 .3\\.036 0\\.039 -.3\\.034 -.55\\.037 -.85\\.04 -1.1\\.035 -1.35\\.038 -1.6\\
.065 1.3\\.068 1.05\\.063 .75\\.066 .5\\.069 .25\\.064 0\\.067 -.3\\.062 -.55\\.065 -.8\\.068 -1.05\\.063 -1.3\\
.098 1.3\\.101 1.05\\.096 .75\\.099 .5\\.102 .2\\.097 -.05\\.1 -.3\\.095 -.6\\.098 -.85\\.101 -1.1\\.096 -1.35\\
.132 1.3\\.135 1.05\\.13 .8\\.133 .5\\.136 .25\\.131 -.05\\.134 -.35\\.129 -.6\\.132 -.85\\.135 -1.15\\.13 -1.4\\
.167 1.35\\.17 1.05\\.165 .8\\.168 .55\\.171 .25\\.166 -.05\\.169 -.35\\.164 -.6\\.167 -.85\\.17 -1.1\\
.202 1.3\\.205 1.05\\.2 .8\\.203 .5\\.206 .2\\.201 -.1\\.204 -.35\\.199 -.65\\.202 -.9\\.205 -1.15\\
.237 1.25\\.24 1\\.235 .7\\.238 .45\\.241 .15\\.236 -.15\\.239 -.4\\.234 -.7\\.237 -.95\\.24 -1.2\\
.272 1.25\\.275 1\\.27 .7\\.273 .4\\.276 .1\\.271 -.15\\.274 -.45\\.269 -.7\\.272 -1\\.275 -1.25\\
.308 1.3\\.311 .95\\.306 .65\\.309 .35\\.312 .1\\.307 -.2\\.31 -.5\\.305 -.8\\.308 -1.15\\
.342 1.3\\.345 .95\\.34 .7\\.343 .4\\.346 .05\\.341 -.25\\.344 -.55\\.339 -.85\\.342 -1.1\\
.378 1.3\\.381 1\\.376 .75\\.379 .45\\.382 .1\\.377 -.25\\.38 -.55\\.375 -.85\\.378 -1.1\\
.412 1.35\\.415 1\\.41 .7\\.413 .3\\.416 0\\.411 -.35\\.414 -.65\\.409 -1\\.412 -1.3\\
.448 1.4\\.451 1.05\\.446 .7\\.449 .35\\.452 0\\.447 -.35\\.45 -.7\\.445 -1\\.448 -1.3\\
.485 1.45\\.488 1.1\\.483 .75\\.486 .4\\.489 .05\\.484 -.3\\.487 -.65\\.482 -.95\\.485 -1.2\\
.525 1.15\\.528 .85\\.523 .5\\.526 .15\\.529 -.2\\.524 -.75\\.527 -1.15\\.57 1.15\\.573 .7\\.568 .2\\.571 -.5\\.574 -.75\\
.06 .6\\.12 .55\\.18 .5\\.24 .65\\.3 .6\\.36 .5\\.42 .6\\.06 -.65\\.12 -.6\\.18 -.6\\.24 -.65\\.3 -.7\\.36 -.7\\.42 -.75\\.05 .1\\.14 .05\\.2 .1\\.28 .1\\.34 .05\\.44 .1\\
}\dE
\pgfplotsset{panel/.style={
  scale only axis, width=210pt, height=336pt,
  xmin=-.05, xmax=1.05, ymin=-4.75, ymax=4.73,
  xtick={0,.25,.5,.75,1}, xticklabels={0.00,0.25,0.50,0.75,1.00},
  ytick={-2.5,0,2.5}, yticklabels={-2.5,0.0,2.5},
  minor xtick={.125,.375,.625,.875}, minor ytick={-3.75,-1.25,1.25,3.75},
  grid=both, major grid style={gr, line width=1.2pt}, minor grid style={gr, line width=.7pt},
  axis line style={fr, line width=1.3pt},
  major tick style={fr, line width=1pt}, minor tick length=0pt, major tick length=3.5pt,
  tick align=outside, xtick pos=bottom, ytick pos=left,
  /pgf/number format/assume math mode=true,
  tick label style={font=\fontsize{19}{20}\selectfont, text=tl},
  xticklabel style={yshift=-6pt},
  yticklabel style={xshift=-5pt},
  label style={font=\fontsize{23.4}{25}\selectfont, text=black},
  title style={font=\fontsize{28.4}{30}\selectfont, text=black, at={(axis description cs:0,1)}, anchor=base west, yshift=10pt, xshift=-4pt},
  xlabel style={at={(axis description cs:.5,0)}, anchor=base, yshift=-54pt},
  ylabel style={at={(axis description cs:0,.5)}, anchor=base, yshift=55pt},
  ylabel={Partial effect},
  clip=true,
}, scat/.style={only marks, mark=*, mark size=5pt, mark options={draw opacity=0, fill=pt, fill opacity=.6}},
rug/.style={only marks, mark=|, mark size=5.35pt, mark options={draw=black, line width=.8pt, draw opacity=.5}},
rugsolid/.style={black, line width=10.7pt, forget plot},
rugdark/.style={black, line width=10.7pt, opacity=.65, forget plot},
band/.style={fill=gray!65, draw=none, fill opacity=.65},
smooth line/.style={black, line width=1.6pt, smooth, no marks}}
\begin{document}
\begin{tikzpicture}[x=1pt,y=1pt]
\path[use as bounding box] (0,0) rectangle (1231,901);
% A
\begin{axis}[panel, at={(82pt,516pt)}, anchor=south west, title={s(Anthropophony)}, xlabel={Anthropophony}]
\addplot[rugsolid] coordinates {(-.003,-4.605)(.2,-4.605)};
\addplot[rugdark] coordinates {(.2,-4.605)(.34,-4.605)};
\addplot[rug] table[y expr=-4.605] {\dA};
\addplot[scat] table {\dA};
\addplot[band] coordinates {(0,.17)(.25,-.26)(.5,-.47)(.75,-.66)(1,-.54)(1,-1.39)(.75,-.99)(.5,-.62)(.25,-.34)(0,.09)} -- cycle;
\addplot[smooth line] coordinates {(0,.14)(.115,-.11)(.25,-.30)(.5,-.55)(.75,-.82)(1,-.97)};
\end{axis}
% B
\begin{axis}[panel, at={(388.5pt,516pt)}, anchor=south west, title={s(Biophony)}, xlabel={Biophony}]
\addplot[rugsolid] coordinates {(-.003,-4.605)(.6,-4.605)};
\addplot[rugdark] coordinates {(.6,-4.605)(.8,-4.605)};
\addplot[rug] table[y expr=-4.605] {\dB};
\addplot[scat] table {\dB};
\addplot[band] coordinates {(0,.14)(.25,.06)(.5,-.04)(.75,-.12)(1,-.17)(1,-.33)(.75,-.2)(.5,-.1)(.25,0)(0,.06)} -- cycle;
\addplot[smooth line] coordinates {(0,.1)(.25,.03)(.5,-.07)(.75,-.16)(1,-.25)};
\end{axis}
% C
\begin{axis}[panel, at={(694.5pt,516pt)}, anchor=south west, title={s(Geophony)}, xlabel={Geophony}]
\addplot[rugsolid] coordinates {(-.003,-4.605)(.2,-4.605)};
\addplot[rugdark] coordinates {(.2,-4.605)(.42,-4.605)};
\addplot[rug] table[y expr=-4.605] {\dC};
\addplot[scat] table {\dC};
\addplot[band] coordinates {(0,.17)(.25,-.33)(.5,-.47)(.75,-.3)(.9,-.1)(1,.1)(1,-.61)(.9,-.6)(.75,-.6)(.5,-.65)(.25,-.43)(0,.09)} -- cycle;
\addplot[smooth line] coordinates {(0,.13)(.1,-.1)(.2,-.3)(.3,-.44)(.4,-.51)(.5,-.55)(.6,-.54)(.7,-.48)(.8,-.4)(.9,-.32)(1,-.25)};
\end{axis}
% D
\begin{axis}[panel, at={(1001pt,516pt)}, anchor=south west, title={s(Interference)}, xlabel={Interference}]
\addplot[rugsolid] coordinates {(-.003,-4.605)(.5,-4.605)};
\addplot[rugdark] coordinates {(.5,-4.605)(.62,-4.605)};
\addplot[rug] table[y expr=-4.605] {\dD};
\addplot[scat] table {\dD};
\addplot[band] coordinates {(0,.43)(.2,-.14)(.4,-.38)(.6,-.67)(.8,-.47)(1,.07)(1,-.5)(.8,-.68)(.6,-.77)(.4,-.46)(.2,-.22)(0,.28)} -- cycle;
\addplot[smooth line] coordinates {(0,.36)(.05,.2)(.1,.03)(.15,-.1)(.2,-.18)(.3,-.3)(.4,-.42)(.5,-.58)(.6,-.72)(.65,-.74)(.7,-.7)(.8,-.58)(.9,-.4)(1,-.2)};
\end{axis}
% E
\begin{axis}[panel, at={(82pt,59.5pt)}, anchor=south west, title={s(Quiet)}, xlabel={Quiet}]
\addplot[rugsolid] coordinates {(-.003,-4.605)(.55,-4.605)};
\addplot[rugdark] coordinates {(.55,-4.605)(.74,-4.605)};
\addplot[rug] table[y expr=-4.605] {\dE};
\addplot[scat] table {\dE};
\addplot[band] coordinates {(0,-.03)(.5,.06)(1,.28)(1,.12)(.5,.0)(0,-.13)} -- cycle;
\addplot[smooth line] coordinates {(0,-.08)(.25,-.02)(.5,.04)(.75,.12)(1,.2)};
\end{axis}
\fill[white] (304,855) rectangle (312,901);
\end{tikzpicture}
\end{document}
